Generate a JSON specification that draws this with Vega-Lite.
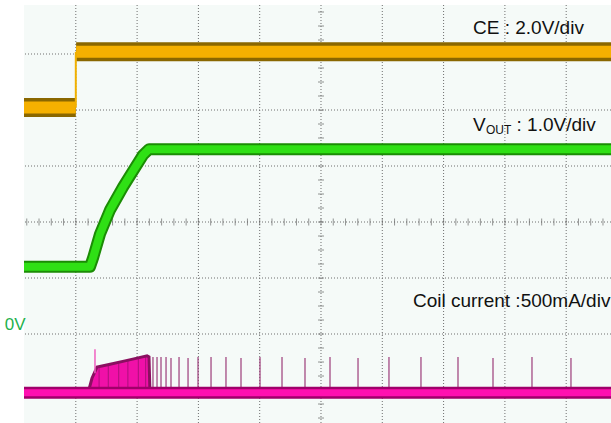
{
  "$schema": "https://vega.github.io/schema/vega-lite/v6.json",
  "width": 587,
  "height": 418,
  "autosize": {"type": "none"},
  "padding": {"left": 24, "top": 5, "right": 0, "bottom": 0},
  "background": "white",
  "config": {"view": {"fill": "#f5faf8", "stroke": null}, "font": "Liberation Sans"},
  "datasets": {
    "vgrid": [{"d": -4}, {"d": -3}, {"d": -2}, {"d": -1}, {"d": 0}, {"d": 1}, {"d": 2}, {"d": 3}, {"d": 4}],
    "hgrid": [{"v": -3}, {"v": -2}, {"v": -1}, {"v": 0}, {"v": 1}, {"v": 2}, {"v": 3}],
    "xticks": [{"d": -4.8, "v": 0}, {"d": -4.6, "v": 0}, {"d": -4.4, "v": 0}, {"d": -4.2, "v": 0}, {"d": -4.0, "v": 0}, {"d": -3.8, "v": 0}, {"d": -3.6, "v": 0}, {"d": -3.4, "v": 0}, {"d": -3.2, "v": 0}, {"d": -3.0, "v": 0}, {"d": -2.8, "v": 0}, {"d": -2.6, "v": 0}, {"d": -2.4, "v": 0}, {"d": -2.2, "v": 0}, {"d": -2.0, "v": 0}, {"d": -1.8, "v": 0}, {"d": -1.6, "v": 0}, {"d": -1.4, "v": 0}, {"d": -1.2, "v": 0}, {"d": -1.0, "v": 0}, {"d": -0.8, "v": 0}, {"d": -0.6, "v": 0}, {"d": -0.4, "v": 0}, {"d": -0.2, "v": 0}, {"d": 0.0, "v": 0}, {"d": 0.2, "v": 0}, {"d": 0.4, "v": 0}, {"d": 0.6, "v": 0}, {"d": 0.8, "v": 0}, {"d": 1.0, "v": 0}, {"d": 1.2, "v": 0}, {"d": 1.4, "v": 0}, {"d": 1.6, "v": 0}, {"d": 1.8, "v": 0}, {"d": 2.0, "v": 0}, {"d": 2.2, "v": 0}, {"d": 2.4, "v": 0}, {"d": 2.6, "v": 0}, {"d": 2.8, "v": 0}, {"d": 3.0, "v": 0}, {"d": 3.2, "v": 0}, {"d": 3.4, "v": 0}, {"d": 3.6, "v": 0}, {"d": 3.8, "v": 0}, {"d": 4.0, "v": 0}, {"d": 4.2, "v": 0}, {"d": 4.4, "v": 0}, {"d": 4.6, "v": 0}],
    "yticks": [{"d": 0, "v": -3.5}, {"d": 0, "v": -3.25}, {"d": 0, "v": -3.0}, {"d": 0, "v": -2.75}, {"d": 0, "v": -2.5}, {"d": 0, "v": -2.25}, {"d": 0, "v": -2.0}, {"d": 0, "v": -1.75}, {"d": 0, "v": -1.5}, {"d": 0, "v": -1.25}, {"d": 0, "v": -1.0}, {"d": 0, "v": -0.75}, {"d": 0, "v": -0.5}, {"d": 0, "v": -0.25}, {"d": 0, "v": 0.0}, {"d": 0, "v": 0.25}, {"d": 0, "v": 0.5}, {"d": 0, "v": 0.75}, {"d": 0, "v": 1.0}, {"d": 0, "v": 1.25}, {"d": 0, "v": 1.5}, {"d": 0, "v": 1.75}, {"d": 0, "v": 2.0}, {"d": 0, "v": 2.25}, {"d": 0, "v": 2.5}, {"d": 0, "v": 2.75}, {"d": 0, "v": 3.0}, {"d": 0, "v": 3.25}, {"d": 0, "v": 3.5}, {"d": 0, "v": 3.75}],
    "ce": [
      {"seg": "low", "d": -4.9, "v": 2.045}, {"seg": "low", "d": -4.0, "v": 2.045},
      {"seg": "high", "d": -3.995, "v": 3.04}, {"seg": "high", "d": 4.8, "v": 3.04}
    ],
    "cestep": [{"d": -4.0, "v": 2.045, "v2": 3.04}],
    "vout": [
      {"d": -4.9, "v": -0.8}, {"d": -3.768, "v": -0.8}, {"d": -3.719, "v": -0.643},
      {"d": -3.605, "v": -0.214}, {"d": -3.442, "v": 0.214}, {"d": -3.23, "v": 0.625},
      {"d": -3.067, "v": 0.911}, {"d": -2.904, "v": 1.196}, {"d": -2.806, "v": 1.3}, {"d": 4.8, "v": 1.3}
    ],
    "coil": [{"d": -4.9, "v": -3.05}, {"d": 4.8, "v": -3.05}],
    "burst": [
      {"d": -3.80, "v": -3.05}, {"d": -3.736, "v": -2.79}, {"d": -3.654, "v": -2.59},
      {"d": -3.44, "v": -2.54}, {"d": -3.197, "v": -2.48}, {"d": -3.0, "v": -2.43},
      {"d": -2.838, "v": -2.39}, {"d": -2.806, "v": -2.41}, {"d": -2.79, "v": -3.05}
    ],
    "spikes": [
      {"d": -2.741, "top": -2.41}, {"d": -2.675, "top": -2.41}, {"d": -2.61, "top": -2.41},
      {"d": -2.528, "top": -2.41}, {"d": -2.447, "top": -2.43}, {"d": -2.316, "top": -2.41},
      {"d": -2.169, "top": -2.43}, {"d": -2.006, "top": -2.41}, {"d": -1.794, "top": -2.41},
      {"d": -1.55, "top": -2.41}, {"d": -1.305, "top": -2.43}, {"d": -0.995, "top": -2.41},
      {"d": -0.636, "top": -2.41}, {"d": -0.261, "top": -2.43}, {"d": 0.147, "top": -2.41},
      {"d": 0.604, "top": -2.43}, {"d": 1.109, "top": -2.41}, {"d": 1.631, "top": -2.41},
      {"d": 2.235, "top": -2.41}, {"d": 2.806, "top": -2.43}, {"d": 3.442, "top": -2.41},
      {"d": 4.078, "top": -2.43}
    ],
    "streaks": [
      {"d": -3.62, "top": -2.6}, {"d": -3.47, "top": -2.56},
      {"d": -3.3, "top": -2.52}, {"d": -3.15, "top": -2.48},
      {"d": -2.98, "top": -2.44}, {"d": -2.86, "top": -2.41}
    ],
    "bigspike": [{"d": -3.687, "top": -2.27}],
    "labels": [
      {"d": 2.48, "v": 3.46, "t": "CE : 2.0V/div"},
      {"d": 2.48, "v": 1.74, "t": "V"},
      {"d": 3.19, "v": 1.74, "t": ": 1.0V/div"},
      {"d": 1.5, "v": -1.41, "t": "Coil current :500mA/div"}
    ],
    "sub": [{"d": 2.69, "v": 1.65, "t": "OUT"}],
    "zero": [{"d": -5.16, "v": -1.84, "t": "0V"}]
  },
  "encoding": {
    "x": {"field": "d", "type": "quantitative", "axis": null, "scale": {"domain": [-4.845, 4.731], "nice": false, "zero": false}},
    "y": {"field": "v", "type": "quantitative", "axis": null, "scale": {"domain": [-3.589, 3.875], "nice": false, "zero": false}}
  },
  "layer": [
    {"data": {"name": "vgrid"}, "mark": {"type": "rule", "color": "#6e6e6e", "strokeDash": [1, 2], "strokeWidth": 1}, "encoding": {"x": {"field": "d", "type": "quantitative"}, "y": null}},
    {"data": {"name": "hgrid"}, "mark": {"type": "rule", "color": "#6e6e6e", "strokeDash": [1, 2], "strokeWidth": 1}, "encoding": {"x": null, "y": {"field": "v", "type": "quantitative"}}},
    {"data": {"name": "xticks"}, "mark": {"type": "tick", "orient": "vertical", "color": "#666666", "thickness": 1, "size": 7}},
    {"data": {"name": "yticks"}, "mark": {"type": "tick", "orient": "horizontal", "color": "#666666", "thickness": 1, "size": 6}},
    {"data": {"name": "ce"}, "mark": {"type": "line", "color": "#8a6700", "strokeWidth": 19, "strokeCap": "butt", "clip": true}, "encoding": {"detail": {"field": "seg"}}},
    {"data": {"name": "ce"}, "mark": {"type": "line", "color": "#f5b000", "strokeWidth": 12, "strokeCap": "butt", "clip": true}, "encoding": {"detail": {"field": "seg"}}},
    {"data": {"name": "cestep"}, "mark": {"type": "rule", "color": "#f0b000", "strokeWidth": 2}, "encoding": {"y2": {"field": "v2"}}},
    {"data": {"name": "vout"}, "mark": {"type": "line", "color": "#1b8c05", "strokeWidth": 12, "strokeCap": "butt", "strokeJoin": "round", "clip": true}},
    {"data": {"name": "vout"}, "mark": {"type": "line", "color": "#2fe015", "strokeWidth": 8, "strokeCap": "butt", "strokeJoin": "round", "clip": true}},
    {"data": {"name": "burst"}, "mark": {"type": "area", "color": "#f010a8", "opacity": 1, "clip": true}, "encoding": {"y2": {"datum": -3.05}}},
    {"data": {"name": "streaks"}, "mark": {"type": "rule", "color": "#9a1070", "strokeWidth": 0.8}, "encoding": {"y": {"field": "top", "type": "quantitative"}, "y2": {"datum": -3.0}}},
    {"data": {"name": "burst"}, "mark": {"type": "line", "color": "#8a1060", "strokeWidth": 3, "clip": true}},
    {"data": {"name": "spikes"}, "mark": {"type": "rule", "color": "#9c3c7a", "strokeWidth": 1.2}, "encoding": {"y": {"field": "top", "type": "quantitative"}, "y2": {"datum": -3.05}}},
    {"data": {"name": "bigspike"}, "mark": {"type": "rule", "color": "#f060c0", "strokeWidth": 1.5}, "encoding": {"y": {"field": "top", "type": "quantitative"}, "y2": {"datum": -2.7}}},
    {"data": {"name": "coil"}, "mark": {"type": "line", "color": "#a0006a", "strokeWidth": 12, "strokeCap": "butt", "clip": true}},
    {"data": {"name": "coil"}, "mark": {"type": "line", "color": "#ff10b0", "strokeWidth": 7, "strokeCap": "butt", "clip": true}},
    {"data": {"name": "labels"}, "mark": {"type": "text", "align": "left", "baseline": "middle", "fontSize": 19, "color": "#111111", "font": "Liberation Sans"}, "encoding": {"text": {"field": "t"}}},
    {"data": {"name": "sub"}, "mark": {"type": "text", "align": "left", "baseline": "middle", "fontSize": 12, "color": "#111111", "font": "Liberation Sans"}, "encoding": {"text": {"field": "t"}}},
    {"data": {"name": "zero"}, "mark": {"type": "text", "align": "left", "baseline": "middle", "fontSize": 17, "color": "#22b14c", "font": "Liberation Sans"}, "encoding": {"text": {"field": "t"}}}
  ]
}
